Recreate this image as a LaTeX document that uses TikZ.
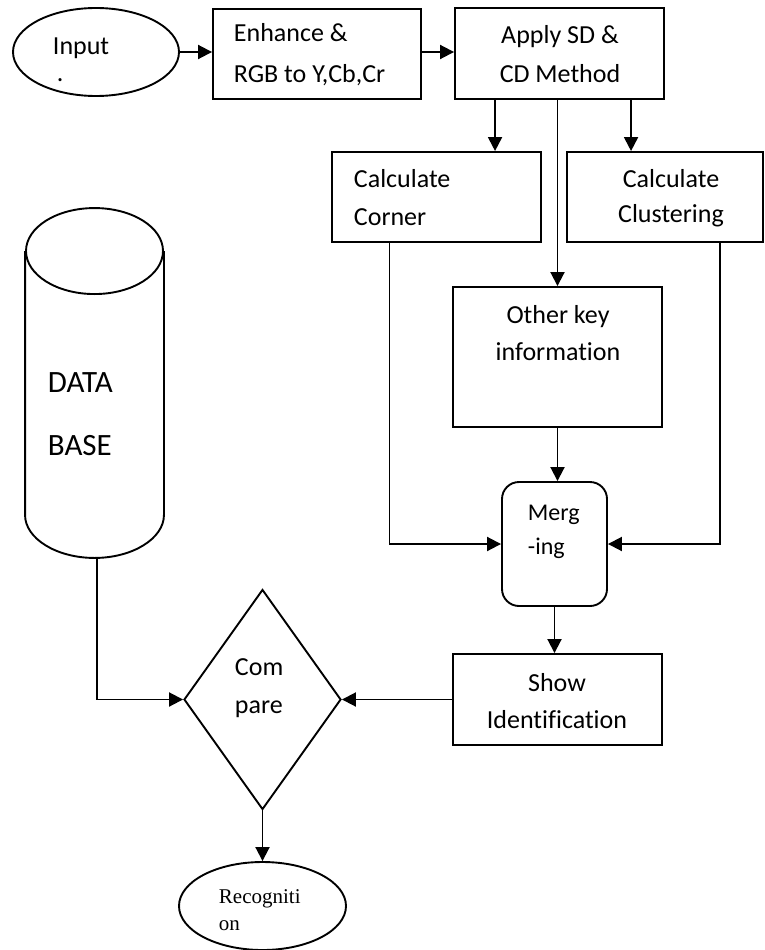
\documentclass[tikz,border=0pt]{standalone}
\usepackage{fontspec}
\setmainfont{Carlito}[Ligatures=NoCommon]
\newfontfamily\recfont{Liberation Serif}[Ligatures=NoCommon]
\usetikzlibrary{shapes.geometric,arrows.meta,calc}
\begin{document}
\begin{tikzpicture}[x=1pt,y=-1pt,
  line width=1.9pt,
  every node/.style={font=\fontsize{26}{39}\selectfont},
  box/.style={draw, rectangle, inner sep=0pt, line width=1.9pt},
  txt/.style={inner sep=0pt, anchor=base west},
  ctxt/.style={inner sep=0pt, anchor=base},
  arr/.style={-{Triangle[length=14pt,width=14pt]}}]
\useasboundingbox (0,0) rectangle (765,950);

% Input
\node[draw, ellipse, minimum width=166, minimum height=88, inner sep=0pt] (in) at (96,52) {};
\node[inner sep=0pt, anchor=north west, align=left, font=\fontsize{26}{27}\selectfont] (inT) at (52,37.3) {Input\\\hspace*{4pt}.};

% Enhance
\node[box, minimum width=208, minimum height=90] (enh) at (317,54) {};
\node[txt] (enhA) at (233,42) {Enhance \&};
\node[txt] (enhB) at (233,82) {RGB to Y,Cb,Cr};

% Apply
\node[box, minimum width=209, minimum height=91] (app) at (559.5,53.5) {};
\node[ctxt] (appA) at (560,44) {Apply SD \&};
\node[ctxt] (appB) at (560,82) {CD Method};

% Corner
\node[box, minimum width=209, minimum height=90] (cor) at (436.5,197) {};
\node[txt] (corA) at (353,187) {Calculate};
\node[txt] (corB) at (353,225) {Corner};

% Clustering
\node[box, minimum width=196, minimum height=90] (clu) at (665,197) {};
\node[ctxt] (cluA) at (671,187) {Calculate};
\node[ctxt] (cluB) at (671,222) {Clustering};

% Other key information
\node[box, minimum width=209, minimum height=140] (oth) at (557.5,357) {};
\node[ctxt] (othA) at (558,323) {Other key};
\node[ctxt] (othB) at (558,360) {information};

% Merging
\node[box, rounded corners=17pt, minimum width=105, minimum height=124] (mer) at (554.5,544) {};
\node[txt, font=\fontsize{24}{34}\selectfont] (merA) at (527,520) {Merg};
\node[txt, font=\fontsize{24}{34}\selectfont] (merB) at (527,554) {-ing};

% Show Identification
\node[box, minimum width=209, minimum height=91] (sho) at (557.5,699.5) {};
\node[ctxt] (shoA) at (557,691) {Show};
\node[ctxt] (shoB) at (557,728) {Identification};

% Compare
\node[draw, diamond, minimum width=157, minimum height=220, inner sep=0pt] (cmp) at (262.5,699.5) {};
\node[txt] (cmpA) at (234,675) {Com};
\node[txt] (cmpB) at (234,713) {pare};

% Recognition
\node[draw, ellipse, minimum width=167, minimum height=88, inner sep=0pt] (rec) at (262.5,906) {};
\node[txt, font=\recfont\fontsize{21}{27}\selectfont] (recA) at (218,903) {Recogniti};
\node[txt, font=\recfont\fontsize{21}{27}\selectfont] (recB) at (218,930) {on};

% Database cylinder
\node[inner sep=0pt, minimum width=137, minimum height=348] (db) at (94.5,383) {};
\draw ($(db.north)+(0,43)$) ellipse [x radius=68.5pt, y radius=43pt];
\draw ([yshift=-43pt]db.north west) -- ([yshift=43pt]db.south west)
  .. controls ++(0,23.7) and ++(-37.8,0) .. (db.south)
  .. controls ++(37.8,0) and ++(0,23.7) .. ([yshift=43pt]db.south east)
  -- ([yshift=-43pt]db.north east);
\node[txt, font=\fontsize{31}{40}\selectfont] (dbA) at (47,392) {DATA};
\node[txt, font=\fontsize{31}{40}\selectfont] (dbB) at (47,455) {BASE};

% Connectors
\draw[arr] (in.east) -- (in.east -| enh.west);
\draw[arr] (enh.east |- 0,52) -- (app.west |- 0,52);
\draw[arr] ([xshift=41pt]app.south west) -- ([xshift=41pt]app.south west |- cor.north);
\draw[arr] ([xshift=177pt]app.south west) -- ([xshift=177pt]app.south west |- clu.north);
\draw[arr] (oth.north |- app.south) -- (oth.north);
\draw[arr] (oth.south) -- (oth.south |- mer.north);
\draw[arr] ([xshift=-47pt]cor.south) |- (mer.west);
\draw[arr] ([xshift=55pt]clu.south) |- (mer.east);
\draw[arr] (mer.south) -- (mer.south |- sho.north);
\draw[arr] (sho.west) -- (cmp.east);
\draw[arr] ([xshift=2.5pt]db.south) |- (cmp.west);
\draw[arr] (cmp.south) -- (rec.north);
\end{tikzpicture}
\end{document}
